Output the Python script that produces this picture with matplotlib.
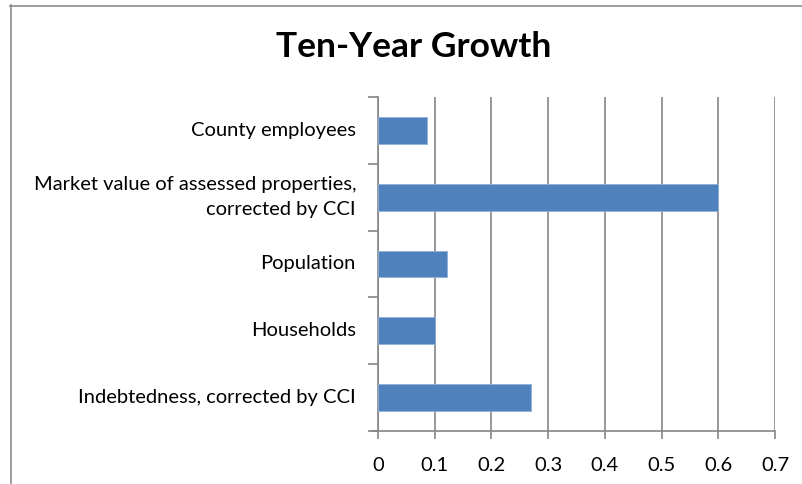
import matplotlib
matplotlib.use("Agg")
import matplotlib.pyplot as plt
from matplotlib.lines import Line2D
from matplotlib.transforms import blended_transform_factory, offset_copy

categories = [
    "County employees",
    "Market value of assessed properties,\ncorrected by CCI",
    "Population",
    "Households",
    "Indebtedness, corrected by CCI",
]
growth = [0.086, 0.60, 0.122, 0.10, 0.27]
x_ticks = [0, 0.1, 0.2, 0.3, 0.4, 0.5, 0.6, 0.7]
x_tick_labels = ["0", "0.1", "0.2", "0.3", "0.4", "0.5", "0.6", "0.7"]
title = "Ten-Year Growth"

plt.rcParams["font.family"] = ["Lato", "DejaVu Sans"]

W, H = 802, 484
fig = plt.figure(figsize=(W / 100, H / 100), dpi=100)
fig.patch.set_facecolor("white")

# chart frame (left and top edges are visible)
fig.add_artist(Line2D([10.5 / W, 10.5 / W], [0, 1 - 5 / H], color="#8c8c8c", lw=1.2))
fig.add_artist(Line2D([10 / W, 1], [1 - 5.5 / H, 1 - 5.5 / H], color="#8c8c8c", lw=1.2))

ax = fig.add_axes([378 / W, 1 - 431 / H, (775 - 378) / W, (431 - 97) / H])

pos = list(range(len(categories)))[::-1]
ax.barh(pos, growth, height=0.4, color="#4F81BD", edgecolor="#8fb0d8", linewidth=0.6, zorder=3)

ax.set_xlim(0, 0.7)
ax.set_ylim(-0.5, len(categories) - 0.5)
ax.set_xticks(x_ticks)
ax.set_xticklabels(x_tick_labels, fontsize=14.5)
ax.set_yticks(pos)
ax.set_yticklabels([])

# category names, right-aligned beside the axis
label_tf = offset_copy(blended_transform_factory(ax.transAxes, ax.transData),
                       fig=fig, x=-22, y=0, units="dots")
for p, name in zip(pos, categories):
    ax.text(0, p, name, transform=label_tf, ha="right", va="center",
            multialignment="right", fontsize=14.5, linespacing=1.6)

# category boundary ticks
ax.set_yticks([i - 0.5 for i in range(len(categories) + 1)], minor=True)
ax.tick_params(axis="y", which="major", length=0)
ax.tick_params(axis="y", which="minor", length=7, color="#868686", width=1.2)
ax.tick_params(axis="x", length=6, color="#868686", width=1.2, pad=13)

ax.grid(axis="x", color="#868686", linewidth=1.2, zorder=0)
for s in ["top", "right"]:
    ax.spines[s].set_visible(False)
for s in ["left", "bottom"]:
    ax.spines[s].set_color("#868686")
    ax.spines[s].set_linewidth(1.2)
ax.spines["bottom"].set_bounds(-0.011, 0.7)

fig.text(414 / W, 1 - 47 / H, title, ha="center", va="center", fontsize=25.5, fontweight="bold")

fig.savefig("out.png", dpi=100)
